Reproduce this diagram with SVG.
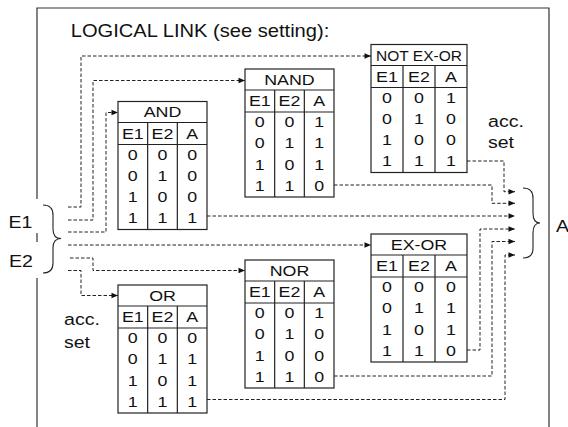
<svg xmlns="http://www.w3.org/2000/svg" width="568" height="427" viewBox="0 0 568 427">
<style>
text{font-family:"Liberation Sans",Arial,sans-serif;fill:#111;text-anchor:middle}
.s{transform-box:fill-box;transform-origin:center;transform:scaleX(1.15)}
.t{font-size:15.5px}
.lb{font-size:17px}
.tb rect{fill:#fff;stroke:#222;stroke-width:1.2}
.tb line{stroke:#222;stroke-width:1.2}
.frame{stroke:#333;stroke-width:1.2;fill:none}
.c path{fill:none;stroke:#222;stroke-width:1;stroke-dasharray:3.5 2}
.br{fill:none;stroke:#222;stroke-width:1.1}
</style>
<defs>
<marker id="ah" markerUnits="userSpaceOnUse" markerWidth="8" markerHeight="8" viewBox="-7 -4 8 8" refX="0" refY="0" orient="auto">
<path d="M-6.5,-2.8 L0,0 L-6.5,2.8 Z" fill="#111"/>
</marker>
</defs>
<g id="frame" class="frame">
<path d="M37,199 V8 H549 V427"/>
<path d="M37,233 V242"/>
<path d="M37,278 V427"/>
</g>
<text class="s" x="200" y="37" style="font-size:17.5px">LOGICAL LINK (see setting):</text>
<g id="label-E1"><text class="s lb" x="20.5" y="228">E1</text></g>
<g id="label-E2"><text class="s lb" x="21" y="267">E2</text></g>
<g id="label-A"><text class="s lb" x="562.5" y="232">A</text></g>
<g id="acc-right"><text class="s lb" x="506" y="127">acc.</text><text class="s lb" x="501" y="148">set</text></g>
<g id="acc-left"><text class="s lb" x="82" y="325">acc.</text><text class="s lb" x="77" y="348">set</text></g>
<path class="br" d="M43,205 Q53,205 53,215 V229 Q53,238.5 61,238.5 Q53,238.5 53,248 V263 Q53,273 43,273"/>
<path class="br" d="M523,188 Q533,188 533,198 V213 Q533,223 540,223 Q533,223 533,233 V248 Q533,258 523,258"/>
<g id="connectors" class="c">
<path d="M68,207 H81 V56 H371" marker-end="url(#ah)"/>
<path d="M68,220 H93 V80.5 H245" marker-end="url(#ah)"/>
<path d="M68,232 H106 V112.5 H118" marker-end="url(#ah)"/>
<path d="M68,245 H371" marker-end="url(#ah)"/>
<path d="M70,258 H93 V270.5 H245" marker-end="url(#ah)"/>
<path d="M68,270.5 H81 V295.5 H118" marker-end="url(#ah)"/>
<path d="M467,161 H504 V191.7 H515" marker-end="url(#ah)"/>
<path d="M334,185 H492 V203.3 H515" marker-end="url(#ah)"/>
<path d="M207,216 H515" marker-end="url(#ah)"/>
<path d="M467,350 H480 V229 H515" marker-end="url(#ah)"/>
<path d="M334,376 H492 V241.5 H515" marker-end="url(#ah)"/>
<path d="M207,399.5 H505 V255 H515" marker-end="url(#ah)"/>
</g>
<g id="AND" class="tb" transform="translate(118,101.5)">
<rect x="0" y="0" width="89" height="128"/><line x1="0" y1="21" x2="89" y2="21"/><line x1="0" y1="43" x2="89" y2="43"/><line x1="29.67" y1="21" x2="29.67" y2="128"/><line x1="59.33" y1="21" x2="59.33" y2="128"/>
<text class="s t" x="44.5" y="16">AND</text>
<text class="s t" x="14.8" y="37.5">E1</text><text class="s t" x="44.5" y="37.5">E2</text><text class="s t" x="74.2" y="37.5">A</text>
<text class="s t" x="14.8" y="58.5">0</text><text class="s t" x="44.5" y="58.5">0</text><text class="s t" x="74.2" y="58.5">0</text>
<text class="s t" x="14.8" y="79.5">0</text><text class="s t" x="44.5" y="79.5">1</text><text class="s t" x="74.2" y="79.5">0</text>
<text class="s t" x="14.8" y="101">1</text><text class="s t" x="44.5" y="101">0</text><text class="s t" x="74.2" y="101">0</text>
<text class="s t" x="14.8" y="122">1</text><text class="s t" x="44.5" y="122">1</text><text class="s t" x="74.2" y="122">1</text>
</g>
<g id="NAND" class="tb" transform="translate(245,69)">
<rect x="0" y="0" width="89" height="128"/><line x1="0" y1="21" x2="89" y2="21"/><line x1="0" y1="43" x2="89" y2="43"/><line x1="29.67" y1="21" x2="29.67" y2="128"/><line x1="59.33" y1="21" x2="59.33" y2="128"/>
<text class="s t" x="44.5" y="16">NAND</text>
<text class="s t" x="14.8" y="37.5">E1</text><text class="s t" x="44.5" y="37.5">E2</text><text class="s t" x="74.2" y="37.5">A</text>
<text class="s t" x="14.8" y="58.5">0</text><text class="s t" x="44.5" y="58.5">0</text><text class="s t" x="74.2" y="58.5">1</text>
<text class="s t" x="14.8" y="79.5">0</text><text class="s t" x="44.5" y="79.5">1</text><text class="s t" x="74.2" y="79.5">1</text>
<text class="s t" x="14.8" y="101">1</text><text class="s t" x="44.5" y="101">0</text><text class="s t" x="74.2" y="101">1</text>
<text class="s t" x="14.8" y="122">1</text><text class="s t" x="44.5" y="122">1</text><text class="s t" x="74.2" y="122">0</text>
</g>
<g id="NOT-EX-OR" class="tb" transform="translate(371,44.5)">
<rect x="0" y="0" width="96" height="128"/><line x1="0" y1="21" x2="96" y2="21"/><line x1="0" y1="43" x2="96" y2="43"/><line x1="32" y1="21" x2="32" y2="128"/><line x1="64" y1="21" x2="64" y2="128"/>
<text class="t" x="48" y="16">NOT EX-OR</text>
<text class="s t" x="16" y="37.5">E1</text><text class="s t" x="48" y="37.5">E2</text><text class="s t" x="80" y="37.5">A</text>
<text class="s t" x="16" y="58.5">0</text><text class="s t" x="48" y="58.5">0</text><text class="s t" x="80" y="58.5">1</text>
<text class="s t" x="16" y="79.5">0</text><text class="s t" x="48" y="79.5">1</text><text class="s t" x="80" y="79.5">0</text>
<text class="s t" x="16" y="101">1</text><text class="s t" x="48" y="101">0</text><text class="s t" x="80" y="101">0</text>
<text class="s t" x="16" y="122">1</text><text class="s t" x="48" y="122">1</text><text class="s t" x="80" y="122">1</text>
</g>
<g id="EX-OR" class="tb" transform="translate(371,234)">
<rect x="0" y="0" width="96" height="128"/><line x1="0" y1="21" x2="96" y2="21"/><line x1="0" y1="43" x2="96" y2="43"/><line x1="32" y1="21" x2="32" y2="128"/><line x1="64" y1="21" x2="64" y2="128"/>
<text class="s t" x="48" y="16">EX-OR</text>
<text class="s t" x="16" y="37.5">E1</text><text class="s t" x="48" y="37.5">E2</text><text class="s t" x="80" y="37.5">A</text>
<text class="s t" x="16" y="58.5">0</text><text class="s t" x="48" y="58.5">0</text><text class="s t" x="80" y="58.5">0</text>
<text class="s t" x="16" y="79.5">0</text><text class="s t" x="48" y="79.5">1</text><text class="s t" x="80" y="79.5">1</text>
<text class="s t" x="16" y="101">1</text><text class="s t" x="48" y="101">0</text><text class="s t" x="80" y="101">1</text>
<text class="s t" x="16" y="122">1</text><text class="s t" x="48" y="122">1</text><text class="s t" x="80" y="122">0</text>
</g>
<g id="NOR" class="tb" transform="translate(245,260)">
<rect x="0" y="0" width="89" height="128"/><line x1="0" y1="21" x2="89" y2="21"/><line x1="0" y1="43" x2="89" y2="43"/><line x1="29.67" y1="21" x2="29.67" y2="128"/><line x1="59.33" y1="21" x2="59.33" y2="128"/>
<text class="s t" x="44.5" y="16">NOR</text>
<text class="s t" x="14.8" y="37.5">E1</text><text class="s t" x="44.5" y="37.5">E2</text><text class="s t" x="74.2" y="37.5">A</text>
<text class="s t" x="14.8" y="58.5">0</text><text class="s t" x="44.5" y="58.5">0</text><text class="s t" x="74.2" y="58.5">1</text>
<text class="s t" x="14.8" y="79.5">0</text><text class="s t" x="44.5" y="79.5">1</text><text class="s t" x="74.2" y="79.5">0</text>
<text class="s t" x="14.8" y="101">1</text><text class="s t" x="44.5" y="101">0</text><text class="s t" x="74.2" y="101">0</text>
<text class="s t" x="14.8" y="122">1</text><text class="s t" x="44.5" y="122">1</text><text class="s t" x="74.2" y="122">0</text>
</g>
<g id="OR" class="tb" transform="translate(118,285)">
<rect x="0" y="0" width="89" height="128"/><line x1="0" y1="21" x2="89" y2="21"/><line x1="0" y1="43" x2="89" y2="43"/><line x1="29.67" y1="21" x2="29.67" y2="128"/><line x1="59.33" y1="21" x2="59.33" y2="128"/>
<text class="s t" x="44.5" y="16">OR</text>
<text class="s t" x="14.8" y="37.5">E1</text><text class="s t" x="44.5" y="37.5">E2</text><text class="s t" x="74.2" y="37.5">A</text>
<text class="s t" x="14.8" y="58.5">0</text><text class="s t" x="44.5" y="58.5">0</text><text class="s t" x="74.2" y="58.5">0</text>
<text class="s t" x="14.8" y="79.5">0</text><text class="s t" x="44.5" y="79.5">1</text><text class="s t" x="74.2" y="79.5">1</text>
<text class="s t" x="14.8" y="101">1</text><text class="s t" x="44.5" y="101">0</text><text class="s t" x="74.2" y="101">1</text>
<text class="s t" x="14.8" y="122">1</text><text class="s t" x="44.5" y="122">1</text><text class="s t" x="74.2" y="122">1</text>
</g>
</svg>
